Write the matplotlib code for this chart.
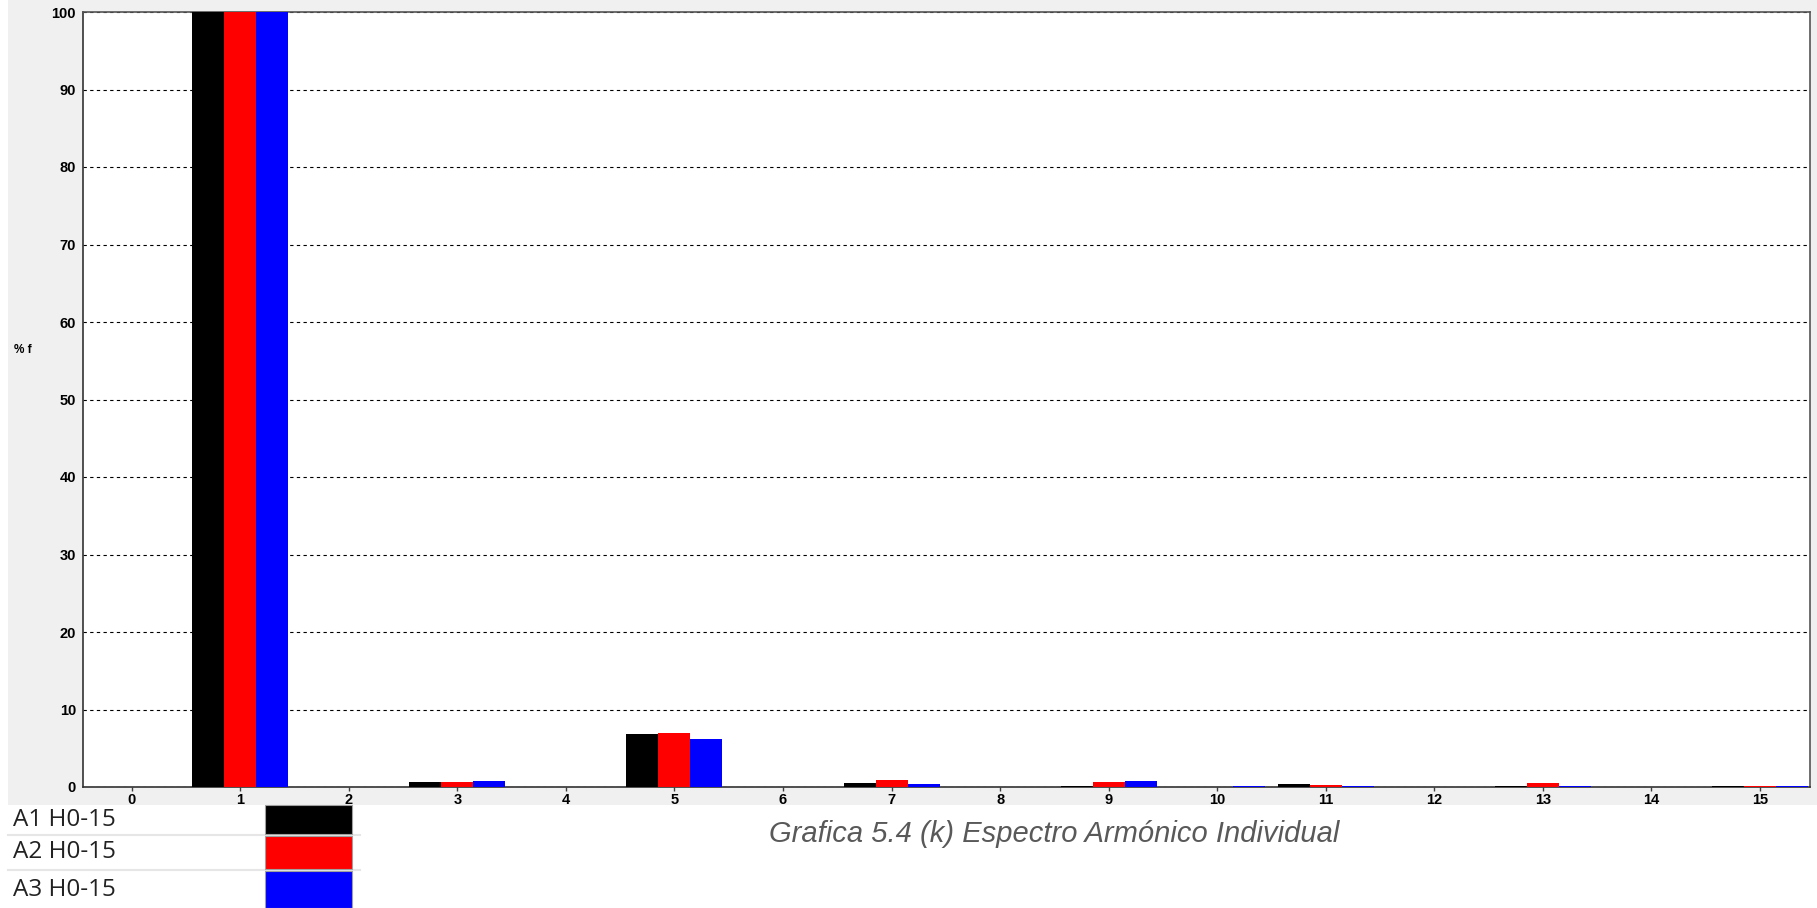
import matplotlib
matplotlib.use("Agg")
import matplotlib.pyplot as plt
from matplotlib.patches import Rectangle
from matplotlib.lines import Line2D
import numpy as np

# Harmonic order and individual harmonic magnitude (% of fundamental) per channel
harmonics = list(range(16))
a1_values = [0, 100, 0, 0.60, 0, 6.85, 0, 0.48, 0, 0.17, 0, 0.35, 0, 0.15, 0, 0.15]
a2_values = [0, 100, 0, 0.60, 0, 7.00, 0, 0.90, 0, 0.60, 0, 0.30, 0, 0.48, 0, 0.12]
a3_values = [0, 100, 0, 0.74, 0, 6.15, 0, 0.45, 0, 0.74, 0.15, 0.15, 0, 0.15, 0, 0.15]
series_labels = ["A1 H0-15", "A2 H0-15", "A3 H0-15"]
series_colors = ["#000000", "#ff0000", "#0000ff"]
y_ticks = list(range(0, 101, 10))
caption = "Grafica 5.4 (k) Espectro Armónico Individual"

W, H = 1817, 908
fig = plt.figure(figsize=(W / 100, H / 100), dpi=100)
fig.patch.set_facecolor("white")

def fx(px):
    return px / W

def fy(py):
    return 1 - py / H

# grey panel behind the chart
fig.patches.append(Rectangle((fx(8), fy(805)), 1 - fx(8), fy(0) - fy(805),
                             transform=fig.transFigure, facecolor="#f0f0f0",
                             edgecolor="none", zorder=-5))

ax = fig.add_axes([fx(83), fy(787), fx(1810) - fx(83), fy(12) - fy(787)])
ax.set_zorder(5)
ax.set_facecolor("white")

x = np.arange(len(harmonics))
bw = 0.295
for i, (vals, col) in enumerate(zip([a1_values, a2_values, a3_values], series_colors)):
    ax.bar(x + (i - 1) * bw, vals, width=bw, color=col, edgecolor="none", zorder=3)

ax.set_xlim(-0.448, 15.46)
ax.set_ylim(0, 100)
ax.set_yticks(y_ticks)
ax.set_xticks(x)
ax.set_xticklabels([str(h) for h in harmonics])
for lab in ax.get_xticklabels() + ax.get_yticklabels():
    lab.set_fontweight("bold")
    lab.set_fontfamily("Liberation Sans")
    lab.set_fontsize(10.5)
ax.tick_params(axis="y", length=0, pad=5)
ax.tick_params(axis="x", length=3, width=1, direction="out", pad=1, color="#404040")
ax.yaxis.grid(True, linestyle=(0, (3, 3)), color="black", linewidth=0.8, zorder=1)
ax.set_axisbelow(True)
for s in ax.spines.values():
    s.set_color("#555555")
    s.set_linewidth(1.2)
ax.spines["left"].set_color("#333333")
ax.spines["bottom"].set_color("#333333")

fig.text(fx(14), fy(350), "% f", fontsize=8.5, fontweight="bold",
         family="Liberation Sans", va="center", ha="left")

# legend table underneath
row_tops = [805, 836, 871]
row_bots = [834, 869, 908]
for i, (lab, col) in enumerate(zip(series_labels, series_colors)):
    cy = (row_tops[i] + row_bots[i]) / 2
    fig.text(fx(13), fy(cy), lab, fontsize=17.5, family="Open Sans",
             color="#222222", va="center", ha="left")
    fig.patches.append(Rectangle((fx(265), fy(row_bots[i])), fx(352) - fx(265),
                                 fy(row_tops[i]) - fy(row_bots[i]),
                                 transform=fig.transFigure, facecolor=col,
                                 edgecolor="#a0a0a0", linewidth=0.8, zorder=2))
for sep in [835, 870]:
    fig.lines.append(Line2D([fx(8), fx(360)], [fy(sep), fy(sep)],
                            transform=fig.transFigure, color="#e6e6e6", linewidth=1.5))

fig.text(fx(1054), fy(834), caption, fontsize=21, style="italic",
         family="Liberation Sans", color="#595959", ha="center", va="center")

fig.savefig("out.png", dpi=100, facecolor="white")
